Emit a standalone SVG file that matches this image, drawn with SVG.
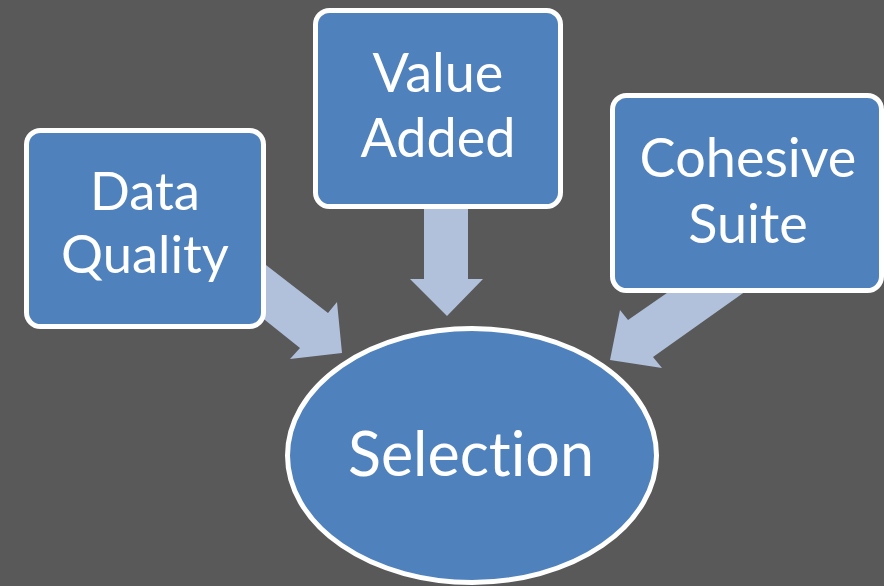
<svg xmlns="http://www.w3.org/2000/svg" width="884" height="586" viewBox="0 0 884 586">
<style>
.box{fill:#4F81BD;stroke:#FFFFFF;stroke-width:5}
.arr{fill:#B1C1DC}
.t{fill:#FFFFFF;font-family:Lato,"Open Sans",sans-serif;text-anchor:middle;font-variant-ligatures:none;font-feature-settings:"liga" 0}
</style>
<rect width="884" height="586" fill="#595959"/>
<g id="connectors">
<polygon class="arr" points="240,245 328,313 337,302 342,353 290,359 300,348 235,296"/>
<polygon class="arr" points="424,200 468,200 468,279 483,279 447,316 410,279 424,279"/>
<polygon class="arr" points="690,277 628,320 620,310 610,360 662,368 653,357 767,276"/>
</g>
<g id="data-quality">
<rect class="box" x="26.5" y="130.5" width="237" height="196" rx="14"/>
<text class="t" x="145" y="210" font-size="52.5">Data</text>
<text class="t" x="145" y="273" font-size="52.5">Quality</text>
</g>
<g id="value-added">
<rect class="box" x="315.5" y="10.5" width="245" height="196" rx="14"/>
<text class="t" x="438" y="92" font-size="54">Value</text>
<text class="t" x="438" y="157" font-size="54">Added</text>
</g>
<g id="cohesive-suite">
<rect class="box" x="612.5" y="95.5" width="269" height="195" rx="14"/>
<text class="t" x="748" y="177" font-size="54">Cohesive</text>
<text class="t" x="748" y="243" font-size="54">Suite</text>
</g>
<g id="selection">
<ellipse class="box" cx="472" cy="455.5" rx="184.5" ry="127"/>
<text class="t" x="471" y="476" font-size="61">Selection</text>
</g>
</svg>
